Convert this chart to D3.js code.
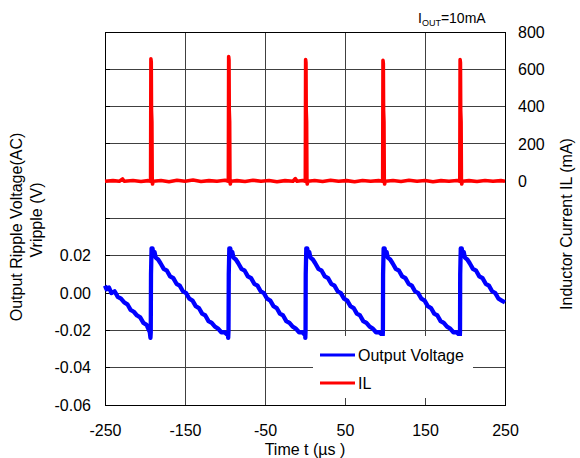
<!DOCTYPE html>
<html><head><meta charset="utf-8">
<script src="https://cdn.jsdelivr.net/npm/d3@7"></script>
<style>body{margin:0;background:#fff}svg{display:block;font-family:"Liberation Sans",Arial,sans-serif}</style>
</head><body><svg id="c" width="580" height="458"></svg>
<script>
// ---- data ----
const timeTicks = [-250, -150, -50, 50, 150, 250];
const voltTicks = [-0.06, -0.04, -0.02, 0.00, 0.02];
const currentTicks = [0, 200, 400, 600, 800];
const legendLabels = ["Output Voltage", "IL"];
// Output voltage (V) : [time µs, volts]
const voltagePoints = [
 [-250,0.004],[-248,0.002],[-245,0.003],[-242,0.000],[-238,0.001],[-234,-0.002],[-230,-0.003],[-226,-0.005],[-222,-0.006],[-218,-0.009],[-214,-0.010],[-210,-0.012],[-206,-0.013],[-202,-0.016],[-198,-0.017],[-195,-0.020],[-194,-0.021],[-193.2,-0.024],[-192.8,-0.021],
 [-192.5,0.010],[-192.2,0.016],[-191.8,0.024],[-190.6,0.024],[-189.6,0.021],[-188.1,0.022],[-186.6,0.019],[-183.6,0.018],[-180.6,0.016],[-176.6,0.013],[-172.6,0.012],[-168.6,0.009],[-164.6,0.008],[-160.6,0.005],[-156.6,0.004],[-152.6,0.001],[-148.6,0.000],[-144.6,-0.003],[-140.6,-0.004],[-136.6,-0.007],[-132.6,-0.008],[-128.6,-0.011],[-124.6,-0.012],[-120.6,-0.015],[-116.6,-0.016],[-112.6,-0.018],[-108.6,-0.019],[-104.6,-0.021],[-100.6,-0.021],[-98,-0.022],[-96.4,-0.021],[-96.0,-0.024],[-95.6,-0.020],
 [-95.3,0.010],[-95.0,0.016],[-94.6,0.024],[-93.4,0.024],[-92.4,0.021],[-90.9,0.022],[-89.4,0.019],[-86.4,0.018],[-83.4,0.016],[-79.4,0.013],[-75.4,0.012],[-71.4,0.009],[-67.4,0.008],[-63.4,0.005],[-59.4,0.004],[-55.4,0.001],[-51.4,0.000],[-47.4,-0.003],[-43.4,-0.004],[-39.4,-0.007],[-35.4,-0.008],[-31.4,-0.011],[-27.4,-0.012],[-23.4,-0.015],[-19.4,-0.016],[-15.4,-0.018],[-11.4,-0.019],[-7.4,-0.021],[-3.4,-0.021],[-1,-0.022],[0.2,-0.021],[0.4,-0.024],[0.7,-0.020],
 [0.9,0.010],[1.2,0.016],[1.6,0.024],[2.8,0.024],[3.8,0.021],[5.3,0.022],[6.8,0.019],[9.8,0.018],[12.8,0.016],[16.8,0.013],[20.8,0.012],[24.8,0.009],[28.8,0.008],[32.8,0.005],[36.8,0.004],[40.8,0.001],[44.8,0.000],[48.8,-0.003],[52.8,-0.004],[56.8,-0.007],[60.8,-0.008],[64.8,-0.011],[68.8,-0.012],[72.8,-0.015],[76.8,-0.016],[80.8,-0.018],[84.8,-0.019],[88.8,-0.021],[92.8,-0.021],[95.5,-0.022],[96.6,-0.021],[97.0,-0.024],[97.4,-0.020],
 [97.6,0.010],[97.9,0.016],[98.3,0.024],[99.5,0.024],[100.5,0.021],[102,0.022],[103.5,0.019],[106.5,0.018],[109.5,0.016],[113.5,0.013],[117.5,0.012],[121.5,0.009],[125.5,0.008],[129.5,0.005],[133.5,0.004],[137.5,0.001],[141.5,0.000],[145.5,-0.003],[149.5,-0.004],[153.5,-0.007],[157.5,-0.008],[161.5,-0.011],[165.5,-0.012],[169.5,-0.015],[173.5,-0.016],[177.5,-0.018],[181.5,-0.019],[185.5,-0.021],[189.5,-0.021],[192,-0.022],[193.0,-0.021],[193.4,-0.025],[193.8,-0.020],
 [194.0,0.010],[194.3,0.016],[194.7,0.024],[195.9,0.024],[196.9,0.021],[198.4,0.022],[199.9,0.019],[202.9,0.018],[205.9,0.016],[209.9,0.013],[213.9,0.012],[217.9,0.009],[221.9,0.008],[225.9,0.005],[229.9,0.004],[233.9,0.001],[237.9,0.000],[241.9,-0.003],[245.9,-0.004],[250,-0.005]
];
// Inductor current (mA) : [time µs, mA]
const currentPoints = [
 [-250,0],[-240,3],[-232,0],[-228,12],[-226,0],[-215,4],[-205,-2],[-196,3],[-193.0,0],
 [-192.6,656],[-192.2,640],[-191.9,380],[-191.4,320],[-191.0,0],[-190.6,-15],[-189.8,0],
 [-180,4],[-170,-3],[-160,5],[-150,0],[-140,6],[-130,-2],[-120,3],[-110,0],[-100,5],[-95.8,0],
 [-95.4,668],[-95.0,650],[-94.7,380],[-94.2,320],[-93.8,0],[-93.4,-15],[-92.6,0],
 [-85,3],[-75,-2],[-65,5],[-55,0],[-45,4],[-35,-3],[-25,3],[-15,0],[-12,14],[-10,0],[-3,4],[0.4,0],
 [0.8,652],[1.2,635],[1.5,380],[2.0,320],[2.4,0],[2.8,-15],[3.6,0],
 [12,4],[22,-2],[32,5],[42,0],[52,3],[62,-3],[72,4],[82,0],[92,3],[97.1,0],
 [97.5,648],[97.9,632],[98.2,380],[98.7,320],[99.1,0],[99.5,-15],[100.3,0],
 [110,4],[120,-2],[130,5],[140,0],[150,4],[160,-3],[170,3],[180,0],[190,4],[193.5,0],
 [193.9,652],[194.3,636],[194.6,380],[195.1,320],[195.5,0],[195.9,-15],[196.7,0],
 [205,3],[215,-2],[225,4],[235,0],[245,3],[250,0]
];

// ---- layout ----
const L = 105, R = 505, T = 32, B = 405;
const svg = d3.select("#c");
const x = d3.scaleLinear().domain([-250, 250]).range([L, R]);
const yV = d3.scaleLinear().domain([-0.06, 0.14]).range([B, T]);
const yI = d3.scaleLinear().domain([-1200, 800]).range([B, T]);
const font = 16;

// grid
const gridY = d3.range(-0.06, 0.1401, 0.02);
svg.append("g").selectAll("line").data(gridY).join("line")
  .attr("x1", L).attr("x2", R).attr("y1", d => yV(d)).attr("y2", d => yV(d))
  .attr("stroke", "#404040").attr("stroke-width", 1).attr("shape-rendering", "crispEdges");
svg.append("g").selectAll("line").data(timeTicks).join("line")
  .attr("x1", d => x(d)).attr("x2", d => x(d)).attr("y1", T).attr("y2", B)
  .attr("stroke", "#404040").attr("stroke-width", 1).attr("shape-rendering", "crispEdges");

// axes
const axL = d3.axisLeft(yV).tickValues(voltTicks).tickFormat(d3.format(".2f")).tickSize(0).tickPadding(14);
const gL = svg.append("g").attr("transform", `translate(${L},0)`).call(axL);
const axR = d3.axisRight(yI).tickValues(currentTicks).tickFormat(d3.format("d")).tickSize(0).tickPadding(13);
const gR = svg.append("g").attr("transform", `translate(${R},0)`).call(axR);
const axB = d3.axisBottom(x).tickValues(timeTicks).tickFormat(d3.format("d")).tickSize(0).tickPadding(20);
const gB = svg.append("g").attr("transform", `translate(0,${B})`).call(axB);
[gL, gR, gB].forEach(g => {
  g.select(".domain").remove();
  g.selectAll("text").attr("font-size", font).attr("font-family", "Liberation Sans, Arial, sans-serif").attr("fill", "#000");
});
gL.selectAll("text").text(d => d3.format(".2f")(d).replace("−", "-"));
gB.selectAll("text").text(d => String(d));

// inner ticks
svg.append("g").selectAll("line").data(gridY).join("line")
  .attr("x1", L).attr("x2", L + 5).attr("y1", d => yV(d)).attr("y2", d => yV(d))
  .attr("stroke", "#000").attr("shape-rendering", "crispEdges");

// frame
svg.append("rect").attr("x", L).attr("y", T).attr("width", R - L).attr("height", B - T)
  .attr("fill", "none").attr("stroke", "#000").attr("stroke-width", 1).attr("shape-rendering", "crispEdges");

// series
const lineV = d3.line().x(d => x(d[0])).y(d => yV(d[1]));
const lineI = d3.line().x(d => x(d[0])).y(d => yI(d[1]));
svg.append("path").datum(currentPoints).attr("d", lineI)
  .attr("fill", "none").attr("stroke", "#ff0000").attr("stroke-width", 3.6).attr("stroke-linejoin", "round");
svg.append("path").datum(voltagePoints).attr("d", lineV)
  .attr("fill", "none").attr("stroke", "#0000ff").attr("stroke-width", 4.3).attr("stroke-linejoin", "round");

// legend
const lg = svg.append("g");
lg.append("rect").attr("x", 313).attr("y", 336).attr("width", 160).attr("height", 62).attr("fill", "#fff");
const colors = ["#0000ff", "#ff0000"];
legendLabels.forEach((t, i) => {
  const yy = 355 + i * 28;
  lg.append("line").attr("x1", 320).attr("x2", 355).attr("y1", yy).attr("y2", yy)
    .attr("stroke", colors[i]).attr("stroke-width", 3);
  lg.append("text").attr("x", 358).attr("y", yy + 6).attr("font-size", font).text(t);
});

// annotation
const ann = svg.append("text").attr("x", 418).attr("y", 23).attr("font-size", 14);
ann.append("tspan").text("I");
ann.append("tspan").attr("font-size", 9).attr("dy", 3).text("OUT");
ann.append("tspan").attr("dy", -3).text("=10mA");

// titles
svg.append("text").attr("x", 305).attr("y", 455).attr("text-anchor", "middle").attr("font-size", font).text("Time t (µs )");
svg.append("text").attr("transform", "translate(22,227) rotate(-90)").attr("text-anchor", "middle").attr("font-size", font).text("Output Ripple Voltage(AC)");
svg.append("text").attr("transform", "translate(42,220) rotate(-90)").attr("text-anchor", "middle").attr("font-size", font).text("Vripple (V)");
svg.append("text").attr("transform", "translate(572,224) rotate(-90)").attr("text-anchor", "middle").attr("font-size", font).text("Inductor Current IL (mA)");
</script></body></html>
